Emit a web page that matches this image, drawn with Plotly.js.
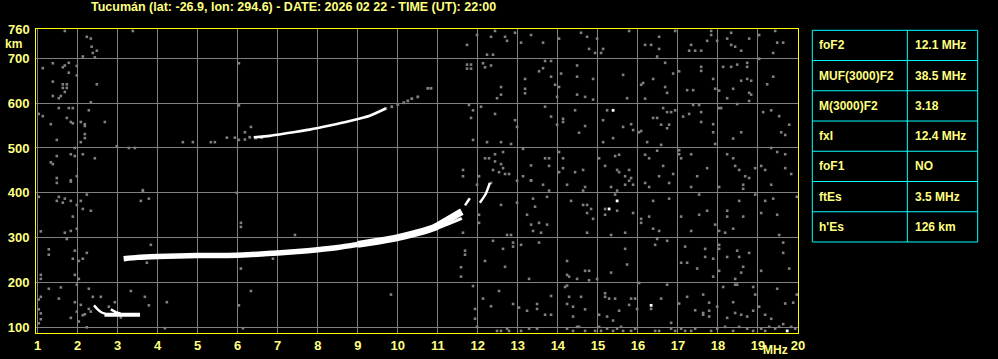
<!DOCTYPE html>
<html>
<head>
<meta charset="utf-8">
<script src="https://cdn.plot.ly/plotly-3.0.1.min.js"></script>
<style>html,body{margin:0;padding:0;background:#000;}#chart{width:998px;height:359px;}</style>
</head>
<body>
<div id="chart"></div>
<script>
// ---------- data ----------
const xTicks = [1,2,3,4,5,6,7,8,9,10,11,12,13,14,15,16,17,18,19,20];
const yTicks = [100,200,300,400,500,600,700];
const yTopLabel = '760';

// F-layer trace (MHz, km)
const fTraceX = [3.15, 3.5, 4.0, 4.5, 5.0, 5.5, 6.0, 6.5, 7.0, 7.5, 8.0, 8.5, 9.0];
const fTraceY = [253, 256, 258, 259, 260, 260, 261, 263, 266, 269, 273, 278, 285];
const fUpperX = [9.0, 9.5, 10.0, 10.5, 10.9, 11.25, 11.6];
const fUpperY = [285, 292, 300, 311, 322, 340, 358];
const fLowerX = [10.9, 11.25, 11.6];
const fLowerY = [318, 330, 343];
const fTipAX = [11.68, 11.8];
const fTipAY = [372, 388];
const fTipBX = [12.05, 12.2, 12.3];
const fTipBY = [378, 398, 422];

// second hop (2F)
const f2X = [6.4, 6.8, 7.3, 7.8, 8.3, 8.8, 9.3, 9.7];
const f2Y = [524, 527, 534, 541, 550, 560, 572, 588];
const f2GrayX = [9.7, 9.85, 10.0, 10.15, 10.25, 10.35, 10.5, 10.75, 10.83, 6.3, 6.45, 6.6];
const f2GrayY = [588, 592, 597, 601, 605, 610, 614, 633, 633, 524, 522, 523];

// sporadic E
const esX = [2.67, 3.56];
const esY = [128, 128];
const esHookX = [2.41, 2.5, 2.6, 2.7];
const esHookY = [149, 140, 133, 130];
const esHook2X = [2.83, 2.95, 3.07];
const esHook2Y = [140, 134, 131];

// background noise points (MHz, km)
const noiseX = [
1.68,2.23,2.33,2.35,2.38,2.48,2.43,2.13,3.38,1.78,1.68,1.38,1.13,1.63,1.78,1.98,1.98,1.38,1.63,1.73,1.63,1.73,1.68,2.48,1.38,1.53,1.58,2.33,1.53,1.78,1.88,2.28,1.03,1.13,1.73,1.83,1.88,2.08,2.18,2.18,2.68,1.33,2.18,2.18,2.08,1.48,1.93,1.83,1.93,2.13,2.43,1.48,1.33,1.38,2.98,3.28,3.43,1.98,1.48,1.48,1.83,1.83,1.03,1.53,1.48,1.63,1.68,1.83,1.98,2.08,2.23,2.13,2.33,3.63,3.63,3.58,3.78,1.88,1.08,1.68,1.83,1.98,1.73,1.28,1.28,1.93,2.23,2.03,2.13,1.88,1.93,2.03,1.08,1.08,3.73,3.83,6.08,6.08,6.08,7.43,6.88,1.28,1.58,1.98,2.28,3.33,1.08,1.03,1.53,1.93,2.38,2.58,2.93,3.68,3.78,4.23,6.33,9.83,6.03,1.08,1.03,1.08,1.03,1.83,2.03,2.23,4.18,6.13,6.03,6.03,5.98,
4.63,4.88,5.33,5.43,5.73,5.93,6.18,6.33,6.03,6.18,
2.08,2.28,1.98,2.18,2.13,2.33,2.78,3.08,
11.98,12.43,12.33,12.68,12.73,12.93,13.33,11.73,12.23,12.38,13.08,13.63,14.03,14.58,14.73,14.98,14.78,14.93,15.08,15.13,15.78,16.18,16.33,16.53,16.53,16.48,16.93,17.33,17.28,17.43,17.58,17.73,17.83,17.83,17.98,18.23,18.33,18.33,18.43,18.58,18.78,19.03,19.43,19.48,19.63,19.38,
11.73,11.83,11.73,11.83,12.13,12.18,12.33,12.58,12.58,12.48,13.18,13.18,13.18,13.53,13.63,13.68,13.83,13.83,13.93,14.03,13.98,14.08,14.48,14.48,14.48,14.68,14.88,14.88,15.63,15.73,16.13,16.08,16.18,16.38,16.68,16.68,16.73,16.88,17.03,17.23,17.38,17.58,17.58,17.88,17.93,18.03,18.13,18.23,18.33,18.38,18.48,18.58,18.73,18.73,18.73,18.83,18.78,18.83,18.78,19.23,19.38,19.03,
11.78,11.88,12.08,11.83,12.43,12.93,12.98,13.68,13.83,13.98,14.13,14.13,14.43,14.68,14.53,15.23,15.13,15.63,15.83,15.88,16.08,16.03,16.38,16.48,16.58,16.63,16.73,16.83,16.93,16.78,16.73,16.58,17.13,17.28,17.38,17.53,17.58,17.58,17.88,17.88,17.93,18.03,18.08,18.48,18.58,18.38,19.13,19.33,19.53,19.58,19.68,19.78,11.88,12.23,12.58,12.83,15.38,15.13,16.23,
12.18,12.28,12.43,12.63,12.43,12.58,12.63,12.38,12.53,12.68,12.78,11.63,11.63,12.03,12.33,13.13,13.13,13.33,13.33,13.68,13.78,13.78,14.03,14.13,14.13,14.03,14.43,14.63,15.03,15.18,15.43,15.53,15.48,15.53,15.68,15.78,15.83,16.18,16.28,16.48,16.63,16.88,16.53,17.03,17.03,17.08,17.33,17.48,17.73,18.23,18.38,18.43,18.53,18.68,18.78,18.93,19.08,19.18,19.68,19.68,19.83,19.33,19.48,
11.98,12.98,13.33,13.63,13.78,14.23,14.63,14.68,15.33,15.48,15.68,15.78,15.88,16.18,16.28,16.78,17.33,17.53,18.03,18.63,18.63,18.93,19.33,19.97,
12.58,12.98,13.38,13.43,13.73,13.23,13.33,13.53,13.58,13.73,13.38,14.33,14.63,14.73,14.73,14.83,14.88,14.73,15.18,15.18,15.43,15.48,15.33,15.68,15.88,16.08,16.08,16.28,16.38,16.53,16.38,16.78,17.08,17.33,17.53,17.73,17.93,18.03,18.18,18.23,18.23,18.38,18.53,18.63,19.08,19.18,19.38,19.48,19.53,11.63,12.03,12.03,
12.38,12.63,12.73,12.83,12.88,12.88,13.08,13.53,11.68,11.68,12.18,11.58,11.58,12.68,13.28,14.23,14.23,14.28,14.48,14.68,14.78,14.78,14.98,15.33,15.68,15.73,16.48,16.43,16.73,17.18,17.08,17.23,17.48,17.68,17.68,17.88,17.88,18.03,18.03,18.03,18.23,18.48,18.53,18.63,18.58,18.43,18.78,19.08,19.63,19.63,19.78,
11.88,12.13,12.33,12.53,12.88,11.93,11.93,11.98,13.03,13.23,13.48,13.48,13.68,13.83,13.83,14.18,14.23,14.28,14.23,14.38,14.38,14.58,14.68,14.48,15.03,15.18,15.18,15.23,15.28,15.43,15.38,15.53,15.78,15.83,15.93,15.98,16.03,16.33,16.58,16.73,16.83,17.03,17.23,17.43,17.63,17.63,17.63,17.78,17.78,17.78,17.98,18.13,18.23,18.43,18.48,18.38,18.43,18.58,18.73,18.88,18.88,18.93,19.03,19.18,19.33,19.48,19.68,19.88,19.97,
12.48,12.58,12.73,12.78,13.08,13.28,13.48,14.23,14.38,14.53,14.68,14.93,15.03,15.08,15.23,15.38,15.48,15.58,15.63,15.83,15.93,16.43,16.53,16.83,16.93,17.08,17.18,17.33,17.43,17.83,17.98,18.18,18.38,18.53,18.73,18.88,19.08,19.18,19.28,19.43,19.53,19.63,19.83,19.93
];
const noiseY = [
761,748,744,726,712,717,702,704,761,690,684,689,678,680,668,683,662,648,642,642,634,634,625,642,616,611,616,602,589,589,589,584,576,571,567,558,555,558,553,549,558,553,531,522,513,518,500,486,482,486,477,482,468,464,504,500,500,437,433,422,428,425,391,391,382,378,387,382,373,382,396,364,360,406,403,382,387,347,314,311,315,320,297,274,262,271,266,248,253,253,217,208,217,208,244,284,333,324,231,306,253,186,189,195,186,181,168,162,164,156,168,168,156,168,149,156,181,173,149,131,140,118,109,121,113,100,98,98,689,595,400,
513,513,513,513,523,523,535,547,518,519,
150,141,135,129,127,135,146,122,
752,761,748,748,739,757,752,730,708,708,735,735,744,757,748,744,721,712,712,721,761,730,730,748,721,704,761,730,717,717,717,739,761,752,739,744,757,730,726,717,744,752,761,735,735,712,
686,686,677,677,689,680,684,636,619,611,654,632,622,671,678,694,694,659,641,636,614,666,684,659,619,614,654,608,663,611,645,641,610,654,690,636,623,666,671,629,629,681,672,654,632,628,681,611,681,632,686,650,690,681,654,650,623,619,605,642,659,699,
596,584,592,567,576,562,547,592,570,552,565,558,584,549,534,584,562,547,553,540,538,535,567,567,552,589,580,580,584,552,544,507,570,576,596,596,580,558,553,535,509,589,589,598,535,521,580,584,571,535,529,552,518,513,513,509,522,513,513,
477,477,486,491,470,464,455,451,446,442,442,451,437,437,422,498,437,461,428,477,477,460,491,477,455,446,446,451,477,460,482,485,451,446,437,451,433,485,477,494,460,442,437,495,486,477,486,437,455,486,477,460,451,437,433,455,460,451,486,455,442,500,491,
418,427,427,418,405,418,405,413,413,405,418,427,418,422,413,422,413,396,413,418,409,396,418,391,
373,378,387,369,391,351,329,333,311,329,315,382,373,373,355,364,342,311,364,351,396,360,306,311,355,342,333,347,320,315,382,387,347,315,351,360,329,315,311,360,347,320,382,347,355,382,387,351,306,311,333,351,
293,275,306,306,289,280,284,289,271,262,248,234,213,235,208,248,217,213,208,226,226,205,208,222,275,240,297,284,293,280,244,244,231,275,257,253,213,284,275,226,257,271,257,235,222,208,266,226,289,266,231,
192,164,147,181,152,141,119,101,144,137,152,141,128,170,128,190,193,168,152,146,124,168,140,101,128,176,168,124,164,164,115,137,150,164,164,141,199,141,164,195,110,153,168,138,173,132,128,155,137,124,146,190,121,195,195,156,132,128,124,137,190,173,146,128,119,186,153,155,173,
92,92,97,92,92,97,97,97,92,101,92,92,101,92,97,92,97,101,92,92,97,92,92,97,92,97,92,92,97,92,97,101,92,101,97,92,97,92,101,97,101,107,101,97
];
const noiseWhiteX = [15.38, 15.28, 15.48, 16.33, 19.73];
const noiseWhiteY = [584, 364, 382, 149, 92];

// parameter table
const tableLabels = ['foF2', 'MUF(3000)F2', 'M(3000)F2', 'fxI', 'foF1', 'ftEs', "h'Es"];
const tableValues = ['12.1 MHz', '38.5 MHz', '3.18', '12.4 MHz', 'NO', '3.5 MHz', '126 km'];

const titleText = 'Tucumán (lat: -26.9, lon: 294.6) - DATE: 2026 02 22 - TIME (UT): 22:00';

// ---------- styling ----------
const TXT = '#ffff80';
const AXIS = '#ffff00';
const GRID = '#808080';
const CYAN = '#00ffff';
const FONT = 'Liberation Sans, Arial, sans-serif';

function line(x, y, w, color) {
  return {x: x, y: y, type: 'scatter', mode: 'lines', hoverinfo: 'skip',
    line: {color: color || '#ffffff', width: w, shape: 'spline', smoothing: 0.6}};
}

const traces = [
  {x: noiseX, y: noiseY, type: 'scatter', mode: 'markers', hoverinfo: 'skip',
   marker: {symbol: 'square', size: 2.6, color: GRID, line: {width: 0}}},
  {x: f2GrayX, y: f2GrayY, type: 'scatter', mode: 'markers', hoverinfo: 'skip',
   marker: {symbol: 'square', size: 2.8, color: GRID, line: {width: 0}}},
  {x: noiseWhiteX, y: noiseWhiteY, type: 'scatter', mode: 'markers', hoverinfo: 'skip',
   marker: {symbol: 'square', size: 2.8, color: '#ffffff', line: {width: 0}}},
  line(fTraceX, fTraceY, 5.5),
  line(fUpperX, fUpperY, 7),
  line(fLowerX, fLowerY, 3),
  line(fTipAX, fTipAY, 2.5),
  line(fTipBX, fTipBY, 2.5),
  line(f2X, f2Y, 2.6),
  line(esX, esY, 4),
  line(esHookX, esHookY, 2.5),
  line(esHook2X, esHook2Y, 2.5)
];

// table geometry (paper coords)
const tL = 1.0188, tM = 1.1435, tR = 1.2358, tTop = 0.9957, rowH = 0.09947;
const shapes = [];
const annotations = [];
for (let i = 0; i <= tableLabels.length; i++) {
  const yy = tTop - i * rowH;
  shapes.push({type: 'line', xref: 'paper', yref: 'paper', x0: tL, x1: tR, y0: yy, y1: yy,
    line: {color: CYAN, width: 1}});
}
const tBot = tTop - tableLabels.length * rowH;
[tL, tM, tR].forEach(function (xx) {
  shapes.push({type: 'line', xref: 'paper', yref: 'paper', x0: xx, x1: xx, y0: tBot, y1: tTop,
    line: {color: CYAN, width: 1}});
});
for (let i = 0; i < tableLabels.length; i++) {
  const yc = tTop - (i + 0.5) * rowH;
  annotations.push({xref: 'paper', yref: 'paper', x: 1.0249, y: yc, xanchor: 'left', yanchor: 'middle',
    text: tableLabels[i], showarrow: false, font: {family: FONT, size: 12, color: TXT, weight: 'bold'}});
  annotations.push({xref: 'paper', yref: 'paper', x: 1.1505, y: yc, xanchor: 'left', yanchor: 'middle',
    text: tableValues[i], showarrow: false, font: {family: FONT, size: 12, color: TXT, weight: 'bold'}});
}
annotations.push({xref: 'paper', yref: 'paper', x: 0, y: 1, xanchor: 'right', yanchor: 'middle', xshift: -4,
  text: yTopLabel, showarrow: false, font: {family: FONT, size: 13, color: TXT, weight: 'bold'}});
annotations.push({xref: 'paper', yref: 'paper', x: -0.0289, y: 0.952, xanchor: 'center', yanchor: 'middle',
  text: 'km', showarrow: false, font: {family: FONT, size: 12, color: TXT, weight: 'bold'}});
annotations.push({xref: 'paper', yref: 'paper', x: 0.990, y: -0.056, xanchor: 'right', yanchor: 'middle',
  text: 'MHz', showarrow: false, font: {family: FONT, size: 12, color: TXT, weight: 'bold'}});

const layout = {
  width: 998, height: 359,
  margin: {l: 36, r: 200, t: 29, b: 26, pad: 0},
  paper_bgcolor: '#000000', plot_bgcolor: '#000000',
  showlegend: false,
  title: {text: titleText, x: 0.0912, xanchor: 'left', xref: 'container', y: 0.982, yanchor: 'middle', yref: 'container',
    font: {family: FONT, size: 12.5, color: TXT, weight: 'bold'}},
  xaxis: {range: [0.96, 20.0], tickvals: xTicks, showgrid: true, gridcolor: GRID, gridwidth: 1,
    zeroline: false, showline: true, mirror: true, linecolor: AXIS, linewidth: 1, ticks: '',
    tickfont: {family: FONT, size: 13, color: TXT, weight: 'bold'}, ticklabelstandoff: 0, fixedrange: true},
  yaxis: {range: [87.3, 765.4], tickvals: yTicks, showgrid: true, gridcolor: GRID, gridwidth: 1,
    zeroline: false, showline: true, mirror: true, linecolor: AXIS, linewidth: 1, ticks: '',
    tickfont: {family: FONT, size: 13, color: TXT, weight: 'bold'}, ticklabelstandoff: 3, fixedrange: true},
  shapes: shapes,
  annotations: annotations
};

Plotly.newPlot('chart', traces, layout, {displayModeBar: false, staticPlot: true});
</script>
</body>
</html>
